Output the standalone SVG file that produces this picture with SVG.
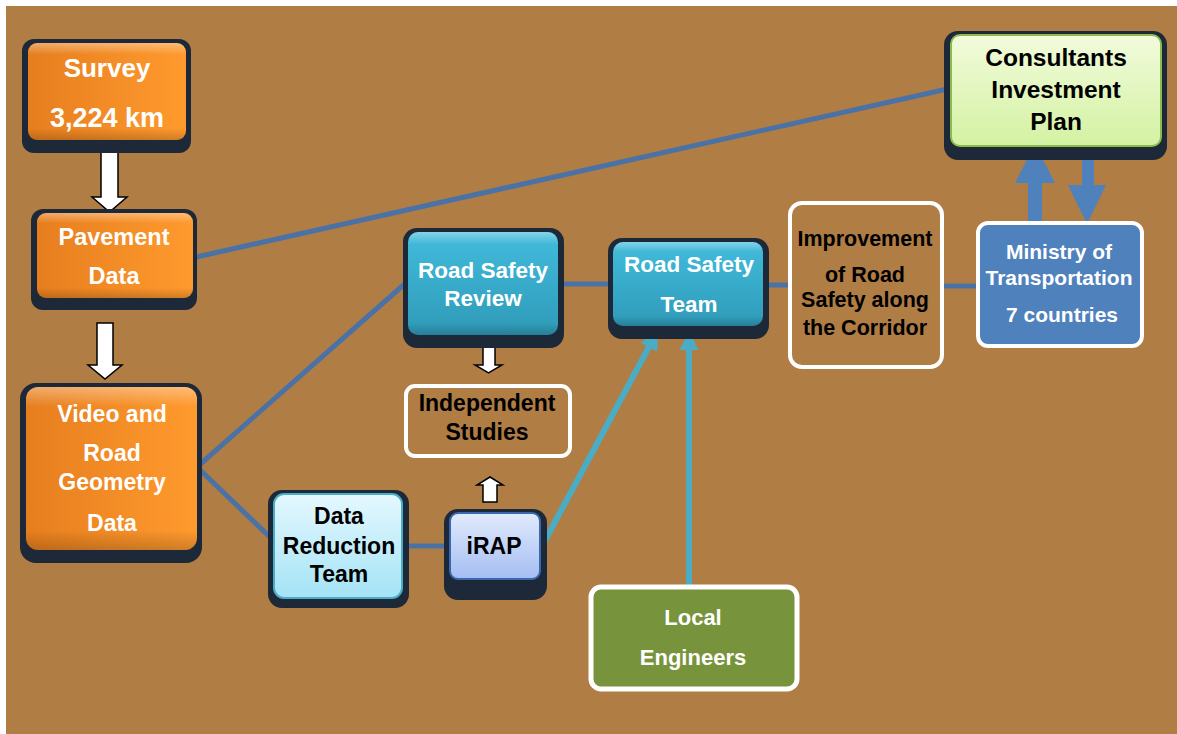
<svg xmlns="http://www.w3.org/2000/svg" width="1177" height="734" viewBox="0 0 1177 734">
<defs>
<linearGradient id="gOrange" x1="0" y1="0" x2="1" y2="0">
<stop offset="0" stop-color="#E67E1E"/><stop offset="1" stop-color="#FF9A2E"/>
</linearGradient>
<linearGradient id="gGloss" x1="0" y1="0" x2="0" y2="1">
<stop offset="0" stop-color="#FFFFFF" stop-opacity="0.35"/><stop offset="0.12" stop-color="#FFFFFF" stop-opacity="0"/><stop offset="0.88" stop-color="#000000" stop-opacity="0"/><stop offset="1" stop-color="#000000" stop-opacity="0.18"/>
</linearGradient>
<linearGradient id="gCyan" x1="0" y1="0" x2="0" y2="1">
<stop offset="0" stop-color="#42BCDC"/><stop offset="1" stop-color="#2F9AB8"/>
</linearGradient>
<linearGradient id="gLightCyan" x1="0" y1="0" x2="0" y2="1">
<stop offset="0" stop-color="#E4F8FE"/><stop offset="1" stop-color="#A4E3F6"/>
</linearGradient>
<linearGradient id="gIrap" x1="0" y1="0" x2="0" y2="1">
<stop offset="0" stop-color="#E2EBFD"/><stop offset="1" stop-color="#A4BDF2"/>
</linearGradient>
<linearGradient id="gGreen" x1="0" y1="0" x2="0" y2="1">
<stop offset="0" stop-color="#F2FBDC"/><stop offset="1" stop-color="#D3F2A2"/>
</linearGradient>
<marker id="cyanHead" viewBox="0 0 10 10" refX="9" refY="5" markerWidth="3.2" markerHeight="3.2" orient="auto" markerUnits="strokeWidth">
<path d="M0,0 L10,5 L0,10 z" fill="#4BACC6"/>
</marker>
<style>
.shadow{fill:#1D2838}
.t{font-family:"Liberation Sans",Arial,sans-serif;font-weight:bold;text-anchor:middle}
.w{fill:#FFFFFF}
.k{fill:#000000}
.conn{stroke:#4A72A6;stroke-width:5;fill:none}
.cyan{stroke:#4BACC6;stroke-width:6;fill:none}
.warrow{fill:#FFFFFF;stroke:#000000;stroke-width:1.5;stroke-linejoin:miter}
.barrow{fill:#4F81BD}
.outline{fill:none;stroke:#FFFFFF;stroke-width:4}
</style>
</defs>
<rect x="0" y="0" width="1177" height="734" fill="#FFFFFF"/>
<rect x="6" y="6" width="1171" height="728" fill="#B07D44"/>

<g id="connectors">
<line class="conn" x1="192" y1="258" x2="952" y2="88"/>
<line class="conn" x1="197" y1="467" x2="408" y2="281"/>
<line class="conn" x1="197" y1="467" x2="274" y2="541"/>
<line class="conn" x1="402" y1="546" x2="450" y2="546"/>
<line class="conn" x1="558" y1="284" x2="613" y2="284"/>
<line class="conn" x1="763" y1="285" x2="790" y2="285"/>
<line class="conn" x1="943" y1="286" x2="978" y2="286"/>
<line class="cyan" x1="542" y1="546" x2="657" y2="332" marker-end="url(#cyanHead)"/>
<line class="cyan" x1="689" y1="590" x2="689" y2="333" marker-end="url(#cyanHead)"/>
<polygon class="warrow" points="101,150 118,150 118,197 127,197 109.5,212 92,197 101,197"/>
<polygon class="warrow" points="97,323 113,323 113,365 122,365 105,379 88,365 97,365"/>
<polygon class="warrow" points="483,347 495,347 495,365 502,365 488.5,373 475,365 483,365"/>
<polygon class="warrow" points="483,502 497,502 497,485 503,485 490,477 477,485 483,485"/>
<polygon class="barrow" points="1028,222 1042,222 1042,183 1055,183 1035,144 1015,183 1028,183"/>
<polygon class="barrow" points="1082,146 1094,146 1094,185 1106,185 1087,224 1068,185 1082,185"/>
</g>

<g id="survey">
<rect class="shadow" x="22" y="39" width="169" height="114" rx="12"/>
<rect x="28" y="43" width="158" height="97" rx="9" fill="url(#gOrange)"/>
<rect x="28" y="43" width="158" height="97" rx="9" fill="url(#gGloss)"/>
<text class="t w" x="107" y="77" font-size="26">Survey</text>
<text class="t w" x="107" y="127" font-size="27">3,224 km</text>
</g>

<g id="pavement">
<rect class="shadow" x="31" y="209" width="166" height="101" rx="12"/>
<rect x="37" y="213" width="156" height="85" rx="9" fill="url(#gOrange)"/>
<rect x="37" y="213" width="156" height="85" rx="9" fill="url(#gGloss)"/>
<text class="t w" x="114" y="245" font-size="23.5">Pavement</text>
<text class="t w" x="114" y="284" font-size="23.5">Data</text>
</g>

<g id="video">
<rect class="shadow" x="20" y="383" width="182" height="180" rx="16"/>
<rect x="26" y="387" width="171" height="163" rx="12" fill="url(#gOrange)"/>
<rect x="26" y="387" width="171" height="163" rx="12" fill="url(#gGloss)"/>
<text class="t w" x="112" y="422" font-size="23">Video and</text>
<text class="t w" x="112" y="461" font-size="23">Road</text>
<text class="t w" x="112" y="490" font-size="23">Geometry</text>
<text class="t w" x="112" y="531" font-size="23">Data</text>
</g>

<g id="road-safety-review">
<rect class="shadow" x="403" y="228" width="161" height="120" rx="14"/>
<rect x="408" y="232" width="150" height="103" rx="10" fill="url(#gCyan)"/>
<rect x="408" y="232" width="150" height="103" rx="10" fill="url(#gGloss)"/>
<text class="t w" x="483" y="278" font-size="22.5">Road Safety</text>
<text class="t w" x="483" y="306" font-size="22.5">Review</text>
</g>

<g id="road-safety-team">
<rect class="shadow" x="608" y="238" width="161" height="101" rx="14"/>
<rect x="613" y="242" width="150" height="84" rx="10" fill="url(#gCyan)"/>
<rect x="613" y="242" width="150" height="84" rx="10" fill="url(#gGloss)"/>
<text class="t w" x="689" y="272" font-size="22.5">Road Safety</text>
<text class="t w" x="689" y="312" font-size="22.5">Team</text>
</g>

<g id="independent-studies">
<rect class="outline" x="406" y="386" width="164" height="70" rx="9"/>
<text class="t k" x="487" y="411" font-size="23">Independent</text>
<text class="t k" x="487" y="440" font-size="23">Studies</text>
</g>

<g id="data-reduction-team">
<rect class="shadow" x="268" y="490" width="141" height="118" rx="14"/>
<rect x="274" y="494" width="128" height="104" rx="10" fill="url(#gLightCyan)" stroke="#4BACC6" stroke-width="2"/>
<text class="t k" x="339" y="524" font-size="23">Data</text>
<text class="t k" x="339" y="554" font-size="23">Reduction</text>
<text class="t k" x="339" y="582" font-size="23">Team</text>
</g>

<g id="irap">
<rect class="shadow" x="444" y="509" width="103" height="91" rx="14"/>
<rect x="450" y="513" width="90" height="66" rx="8" fill="url(#gIrap)" stroke="#3A68AC" stroke-width="2"/>
<text class="t k" x="494" y="554" font-size="23">iRAP</text>
</g>

<g id="local-engineers">
<rect x="591" y="587" width="206" height="102" rx="10" fill="#77933C" stroke="#FFFFFF" stroke-width="5"/>
<text class="t w" x="693" y="625" font-size="22">Local</text>
<text class="t w" x="693" y="665" font-size="22">Engineers</text>
</g>

<g id="improvement">
<rect class="outline" x="790" y="203" width="152" height="164" rx="12"/>
<text class="t k" x="865" y="246" font-size="21.5">Improvement</text>
<text class="t k" x="865" y="282" font-size="21.5">of Road</text>
<text class="t k" x="865" y="307" font-size="21.5">Safety along</text>
<text class="t k" x="865" y="335" font-size="21.5">the Corridor</text>
</g>

<g id="ministry">
<rect x="978" y="223" width="164" height="123" rx="10" fill="#4F81BD" stroke="#FFFFFF" stroke-width="4"/>
<text class="t w" x="1059" y="259" font-size="21">Ministry of</text>
<text class="t w" x="1059" y="285" font-size="21">Transportation</text>
<text class="t w" x="1062" y="322" font-size="21">7 countries</text>
</g>

<g id="consultants">
<rect class="shadow" x="944" y="31" width="223" height="129" rx="14"/>
<rect x="951" y="35" width="210" height="111" rx="9" fill="url(#gGreen)" stroke="#8DBA4C" stroke-width="2"/>
<text class="t k" x="1056" y="66" font-size="24.5">Consultants</text>
<text class="t k" x="1056" y="98" font-size="24.5">Investment</text>
<text class="t k" x="1056" y="130" font-size="24.5">Plan</text>
</g>
</svg>
